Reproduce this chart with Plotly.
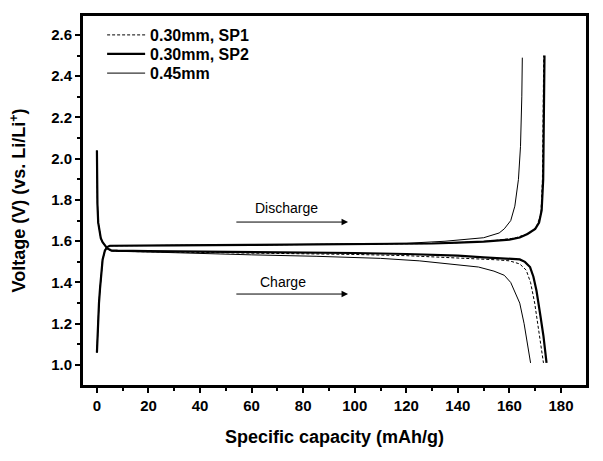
import plotly.graph_objects as go

# ---- data (capacity mAh/g, voltage V) ----
# Lower branch (discharge) for each series
sp1_dis_cap = [0, 0.05, 0.2, 0.5, 1.0, 1.5, 2.2, 3.0, 4.0, 5.5, 8, 20, 40, 60, 80, 100, 120, 140, 149, 155, 160, 164, 166.5, 168.2, 169.8, 171.5, 173.2]
sp1_dis_v   = [2.04, 1.90, 1.78, 1.69, 1.64, 1.615, 1.595, 1.58, 1.565, 1.553, 1.551, 1.549, 1.546, 1.543, 1.540, 1.536, 1.530, 1.520, 1.515, 1.510, 1.505, 1.49, 1.46, 1.40, 1.30, 1.16, 1.01]

sp2_dis_cap = [0, 0.05, 0.2, 0.5, 1.0, 1.5, 2.2, 3.0, 4.0, 5.5, 8, 20, 40, 60, 80, 100, 120, 140, 150, 160, 164, 166, 168, 169.3, 170.5, 172, 173.2, 174.4]
sp2_dis_v   = [2.04, 1.90, 1.78, 1.69, 1.64, 1.615, 1.595, 1.58, 1.565, 1.556, 1.554, 1.552, 1.550, 1.548, 1.546, 1.543, 1.538, 1.530, 1.522, 1.517, 1.512, 1.50, 1.475, 1.428, 1.36, 1.24, 1.14, 1.01]

mm45_dis_cap = [0, 0.05, 0.2, 0.5, 1.0, 1.5, 2.2, 3.0, 4.0, 5.5, 8, 20, 40, 60, 85, 110, 125, 138, 148, 154, 158, 160.5, 162, 164, 165.7, 167, 168.2]
mm45_dis_v   = [2.04, 1.90, 1.78, 1.69, 1.64, 1.615, 1.595, 1.58, 1.565, 1.553, 1.551, 1.548, 1.540, 1.534, 1.527, 1.517, 1.505, 1.49, 1.475, 1.455, 1.435, 1.40, 1.36, 1.30, 1.20, 1.10, 1.01]

# Upper branch (charge) for each series
sp1_chg_cap = [0, 0.3, 0.8, 1.2, 1.7, 2.2, 3.1, 4, 5, 7, 10, 30, 60, 90, 110, 130, 140, 152, 162, 168, 170.5, 172.2, 172.8, 173.1, 173.3]
sp1_chg_v   = [1.06, 1.17, 1.30, 1.37, 1.45, 1.51, 1.555, 1.572, 1.578, 1.578, 1.578, 1.580, 1.582, 1.584, 1.586, 1.589, 1.593, 1.600, 1.615, 1.64, 1.67, 1.73, 1.90, 2.20, 2.50]

sp2_chg_cap = [0, 0.3, 0.8, 1.2, 1.7, 2.2, 3.1, 4, 5, 7, 10, 30, 60, 90, 110, 130, 140, 150, 160, 164, 167, 170, 171.5, 172.5, 173.1, 173.4, 173.6]
sp2_chg_v   = [1.06, 1.17, 1.30, 1.37, 1.45, 1.51, 1.555, 1.572, 1.578, 1.578, 1.578, 1.580, 1.582, 1.584, 1.586, 1.589, 1.593, 1.598, 1.608, 1.618, 1.635, 1.66, 1.69, 1.75, 1.90, 2.20, 2.50]

mm45_chg_cap = [0, 0.3, 0.8, 1.2, 1.7, 2.2, 3.1, 4, 5, 7, 10, 30, 60, 90, 120, 135, 141, 150, 156, 158, 160.5, 162.1, 163.5, 164.3, 164.8, 165.0]
mm45_chg_v   = [1.06, 1.17, 1.30, 1.37, 1.45, 1.51, 1.555, 1.572, 1.578, 1.578, 1.578, 1.580, 1.582, 1.585, 1.590, 1.600, 1.606, 1.617, 1.640, 1.660, 1.700, 1.770, 1.90, 2.06, 2.30, 2.49]

series_names = ["0.30mm, SP1", "0.30mm, SP2", "0.45mm"]
x_ticks = [0, 20, 40, 60, 80, 100, 120, 140, 160, 180]
y_ticks = [1.0, 1.2, 1.4, 1.6, 1.8, 2.0, 2.2, 2.4, 2.6]

FONT = "Liberation Sans, Arial, sans-serif"

def join(c1, v1, c2, v2):
    return list(c1) + [None] + list(c2), list(v1) + [None] + list(v2)

fig = go.Figure()
styles = [dict(color="black", width=1, dash="3px,2px"),
          dict(color="black", width=2.2),
          dict(color="black", width=1)]
data = [(sp1_dis_cap, sp1_dis_v, sp1_chg_cap, sp1_chg_v),
        (sp2_dis_cap, sp2_dis_v, sp2_chg_cap, sp2_chg_v),
        (mm45_dis_cap, mm45_dis_v, mm45_chg_cap, mm45_chg_v)]
legend_ids = ["legend", "legend2", "legend3"]
for name, st, d, lg in zip(series_names, styles, data, legend_ids):
    xs, ys = join(*d)
    fig.add_trace(go.Scatter(x=xs, y=ys, mode="lines", name=name, line=st,
                             connectgaps=False, legend=lg, hoverinfo="skip"))

axis_common = dict(
    showline=True, linecolor="black", linewidth=3, mirror=True,
    ticks="outside", ticklen=5, tickwidth=2, tickcolor="black",
    showgrid=False, zeroline=False, automargin=False,
    tickfont=dict(family=FONT, size=15, color="black", weight="bold"),
)

fig.update_xaxes(**axis_common, range=[-5.4, 189.7], tickvals=x_ticks,
                 minor=dict(dtick=10, tick0=0, ticks="outside", ticklen=3, tickwidth=2, tickcolor="black"),
                 title=dict(text="Specific capacity (mAh/g)", standoff=18,
                            font=dict(family=FONT, size=18, color="black", weight="bold")))
fig.update_yaxes(**axis_common, range=[0.903, 2.692], tickvals=y_ticks, tickformat=".1f",
                 minor=dict(dtick=0.1, tick0=1.0, ticks="outside", ticklen=3, tickwidth=2, tickcolor="black"),
                 title=dict(text="Voltage (V) (vs. Li/Li<sup>+</sup>)", standoff=21,
                            font=dict(family=FONT, size=18, color="black", weight="bold")))

ann_font = dict(family=FONT, size=14, color="black")
fig.add_annotation(x=73.6, y=1.761, text="Discharge", showarrow=False, font=ann_font, xref="x", yref="y")
fig.add_annotation(x=97.4, y=1.693, ax=53.5, ay=1.693, axref="x", ayref="y", xref="x", yref="y",
                   text="", showarrow=True, arrowhead=2, arrowsize=1.3, arrowwidth=1, arrowcolor="black")
fig.add_annotation(x=72.1, y=1.402, text="Charge", showarrow=False, font=ann_font, xref="x", yref="y")
fig.add_annotation(x=97.4, y=1.344, ax=53.5, ay=1.344, axref="x", ayref="y", xref="x", yref="y",
                   text="", showarrow=True, arrowhead=2, arrowsize=1.3, arrowwidth=1, arrowcolor="black")

leg_common = dict(x=0.038, xanchor="left", yanchor="middle",
                  bgcolor="rgba(0,0,0,0)", borderwidth=0, itemwidth=38,
                  font=dict(family=FONT, size=16, color="black", weight="bold"))
fig.update_layout(
    width=603, height=461,
    margin=dict(l=83, r=17, t=16, b=76),
    paper_bgcolor="white", plot_bgcolor="white",
    showlegend=True, hovermode=False,
    legend=dict(**leg_common, y=0.9485),
    legend2=dict(**leg_common, y=0.897),
    legend3=dict(**leg_common, y=0.845),
)

fig.write_html("out.html", config={"displayModeBar": False},
               post_script="document.body.style.margin='0px';document.body.style.overflow='hidden';")
